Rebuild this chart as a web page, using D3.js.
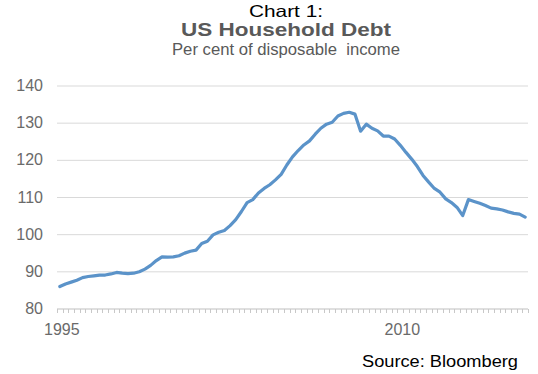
<!DOCTYPE html>
<html>
<head>
<meta charset="utf-8">
<script src="https://cdn.jsdelivr.net/npm/d3@7"></script>
<style>
  html, body { margin: 0; padding: 0; background: #fff; }
  svg { display: block; font-family: "Liberation Sans", Arial, sans-serif; }
  .pre { white-space: pre; }
</style>
</head>
<body>
<svg id="chart" width="538" height="374"></svg>
<script>
// Quarterly household debt, per cent of disposable income, 1995Q1 – 2015Q3
const startYear = 1995;
const debtRatio = [
  85.9, 86.6, 87.1, 87.6, 88.3, 88.6, 88.8, 89.0, 89.0, 89.3,
  89.7, 89.5, 89.4, 89.5, 89.9, 90.6, 91.6, 92.9, 93.9, 93.8,
  93.9, 94.2, 94.9, 95.4, 95.7, 97.5, 98.1, 99.8, 100.5, 101.0,
  102.3, 103.9, 106.1, 108.5, 109.3, 111.1, 112.3, 113.3, 114.6, 116.1,
  118.6, 120.8, 122.5, 124.0, 125.1, 126.9, 128.5, 129.6, 130.1, 131.8,
  132.5, 132.8, 132.3, 127.7, 129.6, 128.5, 127.8, 126.4, 126.4, 125.6,
  123.9, 122.0, 120.2, 118.2, 115.8, 114.0, 112.3, 111.3, 109.5, 108.5,
  107.2, 105.0, 109.3, 108.8, 108.3, 107.7, 107.0, 106.8, 106.5, 106.0,
  105.6, 105.4, 104.6
];
const quarters = debtRatio.map((_, i) => `${startYear + Math.floor(i / 4)}Q${(i % 4) + 1}`);
const yTicks = [80, 90, 100, 110, 120, 130, 140];
const xLabels = { "1995Q1": "1995", "2010Q1": "2010" };

const titleLine1 = "Chart 1:";
const titleLine2 = "US Household Debt";
const subtitle = "Per cent of disposable  income";
const source = "Source: Bloomberg";

const svg = d3.select("#chart");

const x = d3.scaleBand().domain(quarters).range([57, 528]).padding(0);
const y = d3.scaleLinear().domain([80, 140]).range([308.5, 85.5]);

// Titles
svg.append("text").attr("x", 286).attr("y", 17).attr("text-anchor", "middle")
  .attr("font-size", 16.5).attr("fill", "#000")
  .attr("textLength", 74).attr("lengthAdjust", "spacingAndGlyphs")
  .text(titleLine1);
svg.append("text").attr("x", 286).attr("y", 36).attr("text-anchor", "middle")
  .attr("font-size", 19).attr("font-weight", "bold").attr("fill", "#595959")
  .attr("textLength", 210).attr("lengthAdjust", "spacingAndGlyphs")
  .text(titleLine2);
svg.append("text").attr("class", "pre").attr("x", 286).attr("y", 55).attr("text-anchor", "middle")
  .attr("font-size", 16).attr("fill", "#595959")
  .attr("textLength", 228).attr("lengthAdjust", "spacingAndGlyphs")
  .text(subtitle);

// Horizontal gridlines
svg.append("g").selectAll("line").data(yTicks.filter(d => d > 80)).join("line")
  .attr("x1", 57).attr("x2", 528)
  .attr("y1", d => y(d) + 0.5).attr("y2", d => y(d) + 0.5)
  .attr("stroke", "#d9d9d9").attr("stroke-width", 1);

// Y axis labels
const yAxis = svg.append("g").attr("transform", "translate(57,0)")
  .call(d3.axisLeft(y).tickValues(yTicks).tickSize(0).tickPadding(14));
yAxis.select(".domain").remove();
yAxis.selectAll("text").attr("font-size", 16).attr("fill", "#6a6a6a")
  .attr("font-family", "Liberation Sans, Arial, sans-serif");

// X axis: quarter tick marks at category boundaries
const xAxisG = svg.append("g").attr("transform", "translate(0,309)");
const bounds = quarters.map(q => x(q)).concat([x(quarters[quarters.length - 1]) + x.bandwidth()]);
xAxisG.append("line").attr("x1", 57).attr("x2", 528).attr("y1", 0).attr("y2", 0)
  .attr("stroke", "#bfbfbf").attr("stroke-width", 1);
xAxisG.selectAll("line.tick").data(bounds).join("line").attr("class", "tick")
  .attr("x1", d => Math.round(d) + 0.5).attr("x2", d => Math.round(d) + 0.5)
  .attr("y1", 0).attr("y2", 4)
  .attr("stroke", "#c8c8c8").attr("stroke-width", 1);
xAxisG.selectAll("text").data(Object.keys(xLabels)).join("text")
  .attr("x", d => x(d) + x.bandwidth() / 2 + 2).attr("y", 26)
  .attr("text-anchor", "middle").attr("font-size", 16).attr("fill", "#6a6a6a")
  .text(d => xLabels[d]);

// Debt line
const line = d3.line()
  .x((d, i) => x(quarters[i]) + x.bandwidth() / 2)
  .y(d => y(d));
svg.append("path").datum(debtRatio)
  .attr("d", line)
  .attr("fill", "none").attr("stroke", "#5b93c9").attr("stroke-width", 3.2)
  .attr("stroke-linejoin", "round").attr("stroke-linecap", "round");

// Source note
svg.append("text").attr("x", 518).attr("y", 367).attr("text-anchor", "end")
  .attr("font-size", 16).attr("fill", "#000")
  .attr("textLength", 156).attr("lengthAdjust", "spacingAndGlyphs")
  .text(source);
</script>
</body>
</html>
